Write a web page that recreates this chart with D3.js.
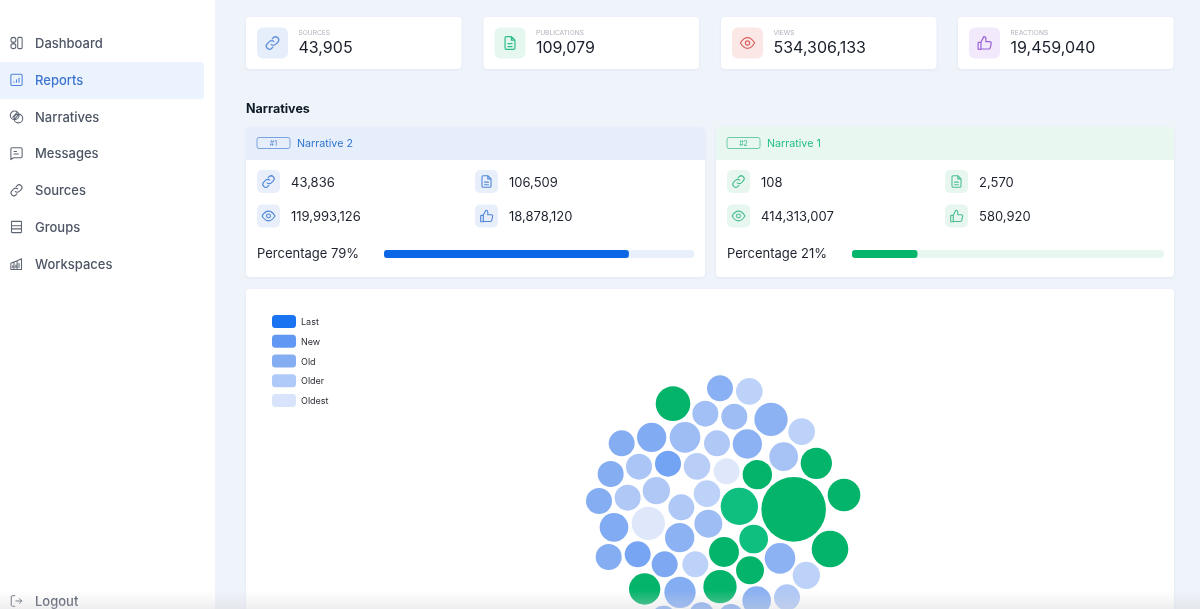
<!DOCTYPE html>
<html><head><meta charset="utf-8">
<script src="https://cdn.jsdelivr.net/npm/d3@7"></script>
<style>html,body{margin:0;padding:0;background:#eff3fa;overflow:hidden}svg{display:block;filter:blur(.35px)}text{font-family:Inter,"Noto Sans",sans-serif}</style>
</head><body><svg id="c" width="1200" height="609"></svg>
<script>
const navLabels=["Dashboard","Reports","Narratives","Messages","Sources","Groups","Workspaces"];
const kpiLabels=["SOURCES","PUBLICATIONS","VIEWS","REACTIONS"];
const kpiValues=[43905,109079,534306133,19459040];
const narrativeNames=["Narrative 2","Narrative 1"];
const narrativeRanks=["#1","#2"];
const narrativeSources=[43836,108];
const narrativePublications=[106509,2570];
const narrativeViews=[119993126,414313007];
const narrativeReactions=[18878120,580920];
const narrativeShare=[79,21];
const ageLabels=["Last","New","Old","Older","Oldest"];
const bubbleNarrative=[2,2,1,2,2,2,2,2,2,2,2,2,2,1,2,2,2,2,2,1,1,1,2,2,2,2,2,1,2,2,2,2,1,1,1,2,2,2,2,1,2,2,1,2,1,2,2,2,2,2];
const bubbleAge=[2.1,3.3,0,2.7,2.6,2.2,3.3,2,1.9,2.6,3,2.2,2.8,0,2,2.9,1.5,3.2,4,0,0,0,2,3,3,3.3,3,1,1.9,4,2.2,2.6,1,0,0,2,1.6,1.8,3.3,0,2.2,3.3,0,2,0,2.1,3,2,2,2];
const bubbleSize=[162,170,287,162,162,266,170,162,206,225,162,206,197,235,162,162,162,170,162,206,1000,255,162,162,179,170,162,333,197,266,206,187,197,215,321,162,162,162,162,187,225,179,235,235,266,197,162,153,153,153];
const bubbleX=[450,538,309,406,493,603,695,155,245,345,441,532,641,739,122,207,294,381,470,562,671,822,87,173,259,411,334,508,132,235,329,415,551,462,780,116,203,284,376,540,630,709,224,330,450,560,651,281,395,483];
const bubbleY=[70,79,116,146,155,163,200,235,217,217,235,237,275,295,327,305,296,304,319,329,433,390,408,398,377,386,427,424,487,475,518,476,522,561,552,576,568,598,598,616,580,631,672,682,665,707,697,760,750,755];

const svg=d3.select("#c");
const fmt=d3.format(",");
const W=1200,H=609,F='Inter,"Noto Sans",sans-serif';
const P={
 link:"M10 14a4.5 4.5 0 0 0 6.4 0l3-3a4.5 4.5 0 0 0-6.4-6.4l-1.5 1.5M14 10a4.5 4.5 0 0 0-6.4 0l-3 3a4.5 4.5 0 0 0 6.4 6.4l1.5-1.5",
 doc:"M7 3h7l5 5v11a2 2 0 0 1-2 2H7a2 2 0 0 1-2-2V5a2 2 0 0 1 2-2zM14 3v5h5M9 13h6M9 17h6",
 eye:"M2 12c3-5 6.5-7.5 10-7.5s7 2.5 10 7.5c-3 5-6.5 7.5-10 7.5S5 17 2 12zM12 9a3 3 0 1 0 0 6a3 3 0 1 0 0-6z",
 thumb:"M7 11v10H4a1 1 0 0 1-1-1v-8a1 1 0 0 1 1-1h3l4-8a3 3 0 0 1 3 3v4h5.5a2 2 0 0 1 2 2.4l-1.4 6.5a2 2 0 0 1-2 1.6H7",
 dash:"M7 3a4 4 0 1 0 0 8a4 4 0 1 0 0-8zM7 13a4 4 0 1 0 0 8a4 4 0 1 0 0-8zM16 3h3a2 2 0 0 1 2 2v14a2 2 0 0 1-2 2h-3a2 2 0 0 1-2-2V5a2 2 0 0 1 2-2z",
 report:"M5 3h14a2 2 0 0 1 2 2v14a2 2 0 0 1-2 2H5a2 2 0 0 1-2-2V5a2 2 0 0 1 2-2zM8 16v-1M12 16v-4M16 16V9",
 narr:"M9 3a7 7 0 1 0 0 14a7 7 0 1 0 0-14zM15 8a7 7 0 1 0 0 14a7 7 0 1 0 0-14zM6 13l7-8M9 16l7-8",
 msg:"M5 3h14a2 2 0 0 1 2 2v12a2 2 0 0 1-2 2H7l-4 3V5a2 2 0 0 1 2-2zM8 9h4M8 13h7",
 group:"M5 3h14a1 1 0 0 1 1 1v16a1 1 0 0 1-1 1H5a1 1 0 0 1-1-1V4a1 1 0 0 1 1-1zM4 10h16M4 15h16",
 work:"M3 21V11l5-2v12M8 21V9l5-2v14M13 21V7l7-3v17M3 21h17M6 15v3M11 14v4M16 11v7",
 logout:"M9 3H5a2 2 0 0 0-2 2v14a2 2 0 0 0 2 2h4M11 12h10M17 8l4 4-4 4"
};
function icon(name,x,y,s,col,sw){
 svg.append("path").attr("d",P[name]).attr("transform",`translate(${x-s/2},${y-s/2}) scale(${s/24})`)
  .attr("fill","none").attr("stroke",col).attr("stroke-width",sw||1.6).attr("stroke-linecap","round").attr("stroke-linejoin","round");
}
function txt(x,y,s,size,col,w,fam){
 return svg.append("text").attr("x",x).attr("y",y).attr("dominant-baseline","central").attr("font-size",size).attr("fill",col).attr("font-weight",w||400).attr("font-family",fam||F).text(s);
}
const defs=svg.append("defs");
const sh=defs.append("filter").attr("id","sh").attr("x","-5%").attr("y","-10%").attr("width","110%").attr("height","120%");
sh.append("feDropShadow").attr("dx",0).attr("dy",1).attr("stdDeviation",1.5).attr("flood-color","#c5d0e4").attr("flood-opacity",.35);
const fade=defs.append("linearGradient").attr("id","fade").attr("x1",0).attr("y1",0).attr("x2",0).attr("y2",1);
fade.append("stop").attr("offset",0).attr("stop-color","#dcdce0").attr("stop-opacity",0);
fade.append("stop").attr("offset",1).attr("stop-color","#d4d4d8").attr("stop-opacity",.4);

svg.append("rect").attr("width",W).attr("height",H).attr("fill","#eff3fa");
// sidebar
svg.append("rect").attr("width",215).attr("height",H).attr("fill","#fff");
svg.append("rect").attr("x",-6).attr("y",62).attr("width",210).attr("height",37).attr("rx",3).attr("fill","#ebf3fe");
const navIcons=["dash","report","narr","msg","link","group","work"];
navLabels.forEach((n,i)=>{
 const y=43+i*36.8, on=i===1;
 icon(navIcons[i],16.5,y,15,on?"#4f82d8":"#5d6472",1.7);
 txt(35,y,n,13,on?"#3f75cc":"#4d5565",450);
});
icon("logout",16.5,601,14,"#5d6472",1.7);
txt(35,601,"Logout",13,"#4d5565",450);

// KPI cards
const kpiX=[246,483.5,721,958];
const kpiBg=["#e6eefb","#e5f7ef","#fce7e7","#f2e9fc"];
const kpiCol=["#5c8fd8","#2cbd87","#d9645f","#9a62d8"];
const kpiIcon=["link","doc","eye","thumb"];
kpiLabels.forEach((l,i)=>{
 const x=kpiX[i];
 svg.append("rect").attr("x",x).attr("y",17).attr("width",215.5).attr("height",52).attr("rx",4).attr("fill","#fff").attr("filter","url(#sh)");
 svg.append("rect").attr("x",x+11).attr("y",27.5).attr("width",31).attr("height",31).attr("rx",6).attr("fill",kpiBg[i]);
 icon(kpiIcon[i],x+26.5,43,17,kpiCol[i],1.7);
 txt(x+52.5,33,l,6.6,"#adb2ba",400);
 txt(x+52.5,47,fmt(kpiValues[i]),16,"#1a1f2b",400);
});
txt(246,108,"Narratives",12.5,"#0d1a24",700);

// narrative cards
const cardX=[246,716],cardW=[459,458];
const headBg=["#e6eefc","#e8f8f0"],headCol=["#2f74cf","#22bd82"],tile=["#e8effb","#e7f7f0"],iconCol=["#4f86d8","#4cbd90"];
const barFill=["#0a66e4","#05b56b"],barTrack=["#e8f0fb","#e8f7f0"];
const barStart=[384,852],barLen=[310,312];
narrativeNames.forEach((n,i)=>{
 const x=cardX[i];
 svg.append("rect").attr("x",x).attr("y",127).attr("width",cardW[i]).attr("height",150).attr("rx",4).attr("fill","#fff").attr("filter","url(#sh)");
 svg.append("path").attr("d",`M${x} 160V131a4 4 0 0 1 4-4H${x+cardW[i]-4}a4 4 0 0 1 4 4V160z`).attr("fill",headBg[i]);
 svg.append("rect").attr("x",x+11).attr("y",137.5).attr("width",33).attr("height",11).attr("rx",2).attr("fill","none").attr("stroke",i?"#4fbf92":"#5f8fd6").attr("stroke-width",.8);
 txt(x+27.5,143,narrativeRanks[i],7,i?"#35b883":"#4f82d0",400).attr("text-anchor","middle");
 txt(x+51,143,n,10.7,headCol[i],400);
 const col2=i?945:475;
 const items=[["link",x+11,181.5,narrativeSources[i]],["doc",col2,181.5,narrativePublications[i]],["eye",x+11,216,narrativeViews[i]],["thumb",col2,216,narrativeReactions[i]]];
 items.forEach(d=>{
  svg.append("rect").attr("x",d[1]).attr("y",d[2]-11.5).attr("width",23).attr("height",23).attr("rx",5).attr("fill",tile[i]);
  icon(d[0],d[1]+11.5,d[2],15.5,iconCol[i],1.7);
  txt(d[1]+34,d[2],fmt(d[3]),13,"#1d222e",400);
 });
 txt(x+11,253,"Percentage "+narrativeShare[i]+"%",13,"#1d222e",400);
 const sx=d3.scaleLinear().domain([0,100]).range([barStart[i],barStart[i]+barLen[i]]);
 svg.append("rect").attr("x",sx(0)).attr("y",250).attr("width",sx(100)-sx(0)).attr("height",8).attr("rx",3).attr("fill",barTrack[i]);
 svg.append("rect").attr("x",sx(0)).attr("y",250).attr("width",sx(narrativeShare[i])-sx(0)).attr("height",8).attr("rx",3).attr("fill",barFill[i]);
});

// bubble chart card
svg.append("rect").attr("x",246).attr("y",289).attr("width",928).attr("height",340).attr("rx",4).attr("fill","#fff").attr("filter","url(#sh)");
const ageColor=d3.scaleLinear().domain([0,1,2,3,4]).range(["#1a73f0","#6198f4","#85adf2","#afc8f6","#dfe8fb"]);
const greenColor=d3.scaleLinear().domain([0,1]).range(["#03b46a","#0ebf80"]);
const legendColor=d3.scaleOrdinal(ageLabels,["#1a73f0","#6198f4","#85adf2","#afc9f8","#d8e4fb"]);
const ly=d3.scaleLinear().domain([0,4]).range([321.5,400.5]);
ageLabels.forEach((a,i)=>{
 svg.append("rect").attr("x",272).attr("y",ly(i)-6.5).attr("width",24).attr("height",13).attr("rx",3.5).attr("fill",legendColor(a));
 txt(301,ly(i),a,9,"#2c2f36",400,'"Liberation Sans",Arial,sans-serif');
});
const xS=d3.scaleLinear().domain([0,930]).range([570,880]);
const yS=d3.scaleLinear().domain([0,732]).range([365,609]);
const rS=d3.scaleSqrt().domain([0,1000]).range([0,32.3]);
svg.append("g").selectAll("circle").data(bubbleSize.map((s,i)=>({s,x:bubbleX[i],y:bubbleY[i],n:bubbleNarrative[i],a:bubbleAge[i]})))
 .join("circle").attr("cx",d=>xS(d.x)).attr("cy",d=>yS(d.y)).attr("r",d=>rS(d.s))
 .attr("fill",d=>d.n===1?greenColor(d.a):ageColor(d.a));
// bottom fade
svg.append("rect").attr("y",590).attr("width",W).attr("height",19).attr("fill","url(#fade)");
</script></body></html>
